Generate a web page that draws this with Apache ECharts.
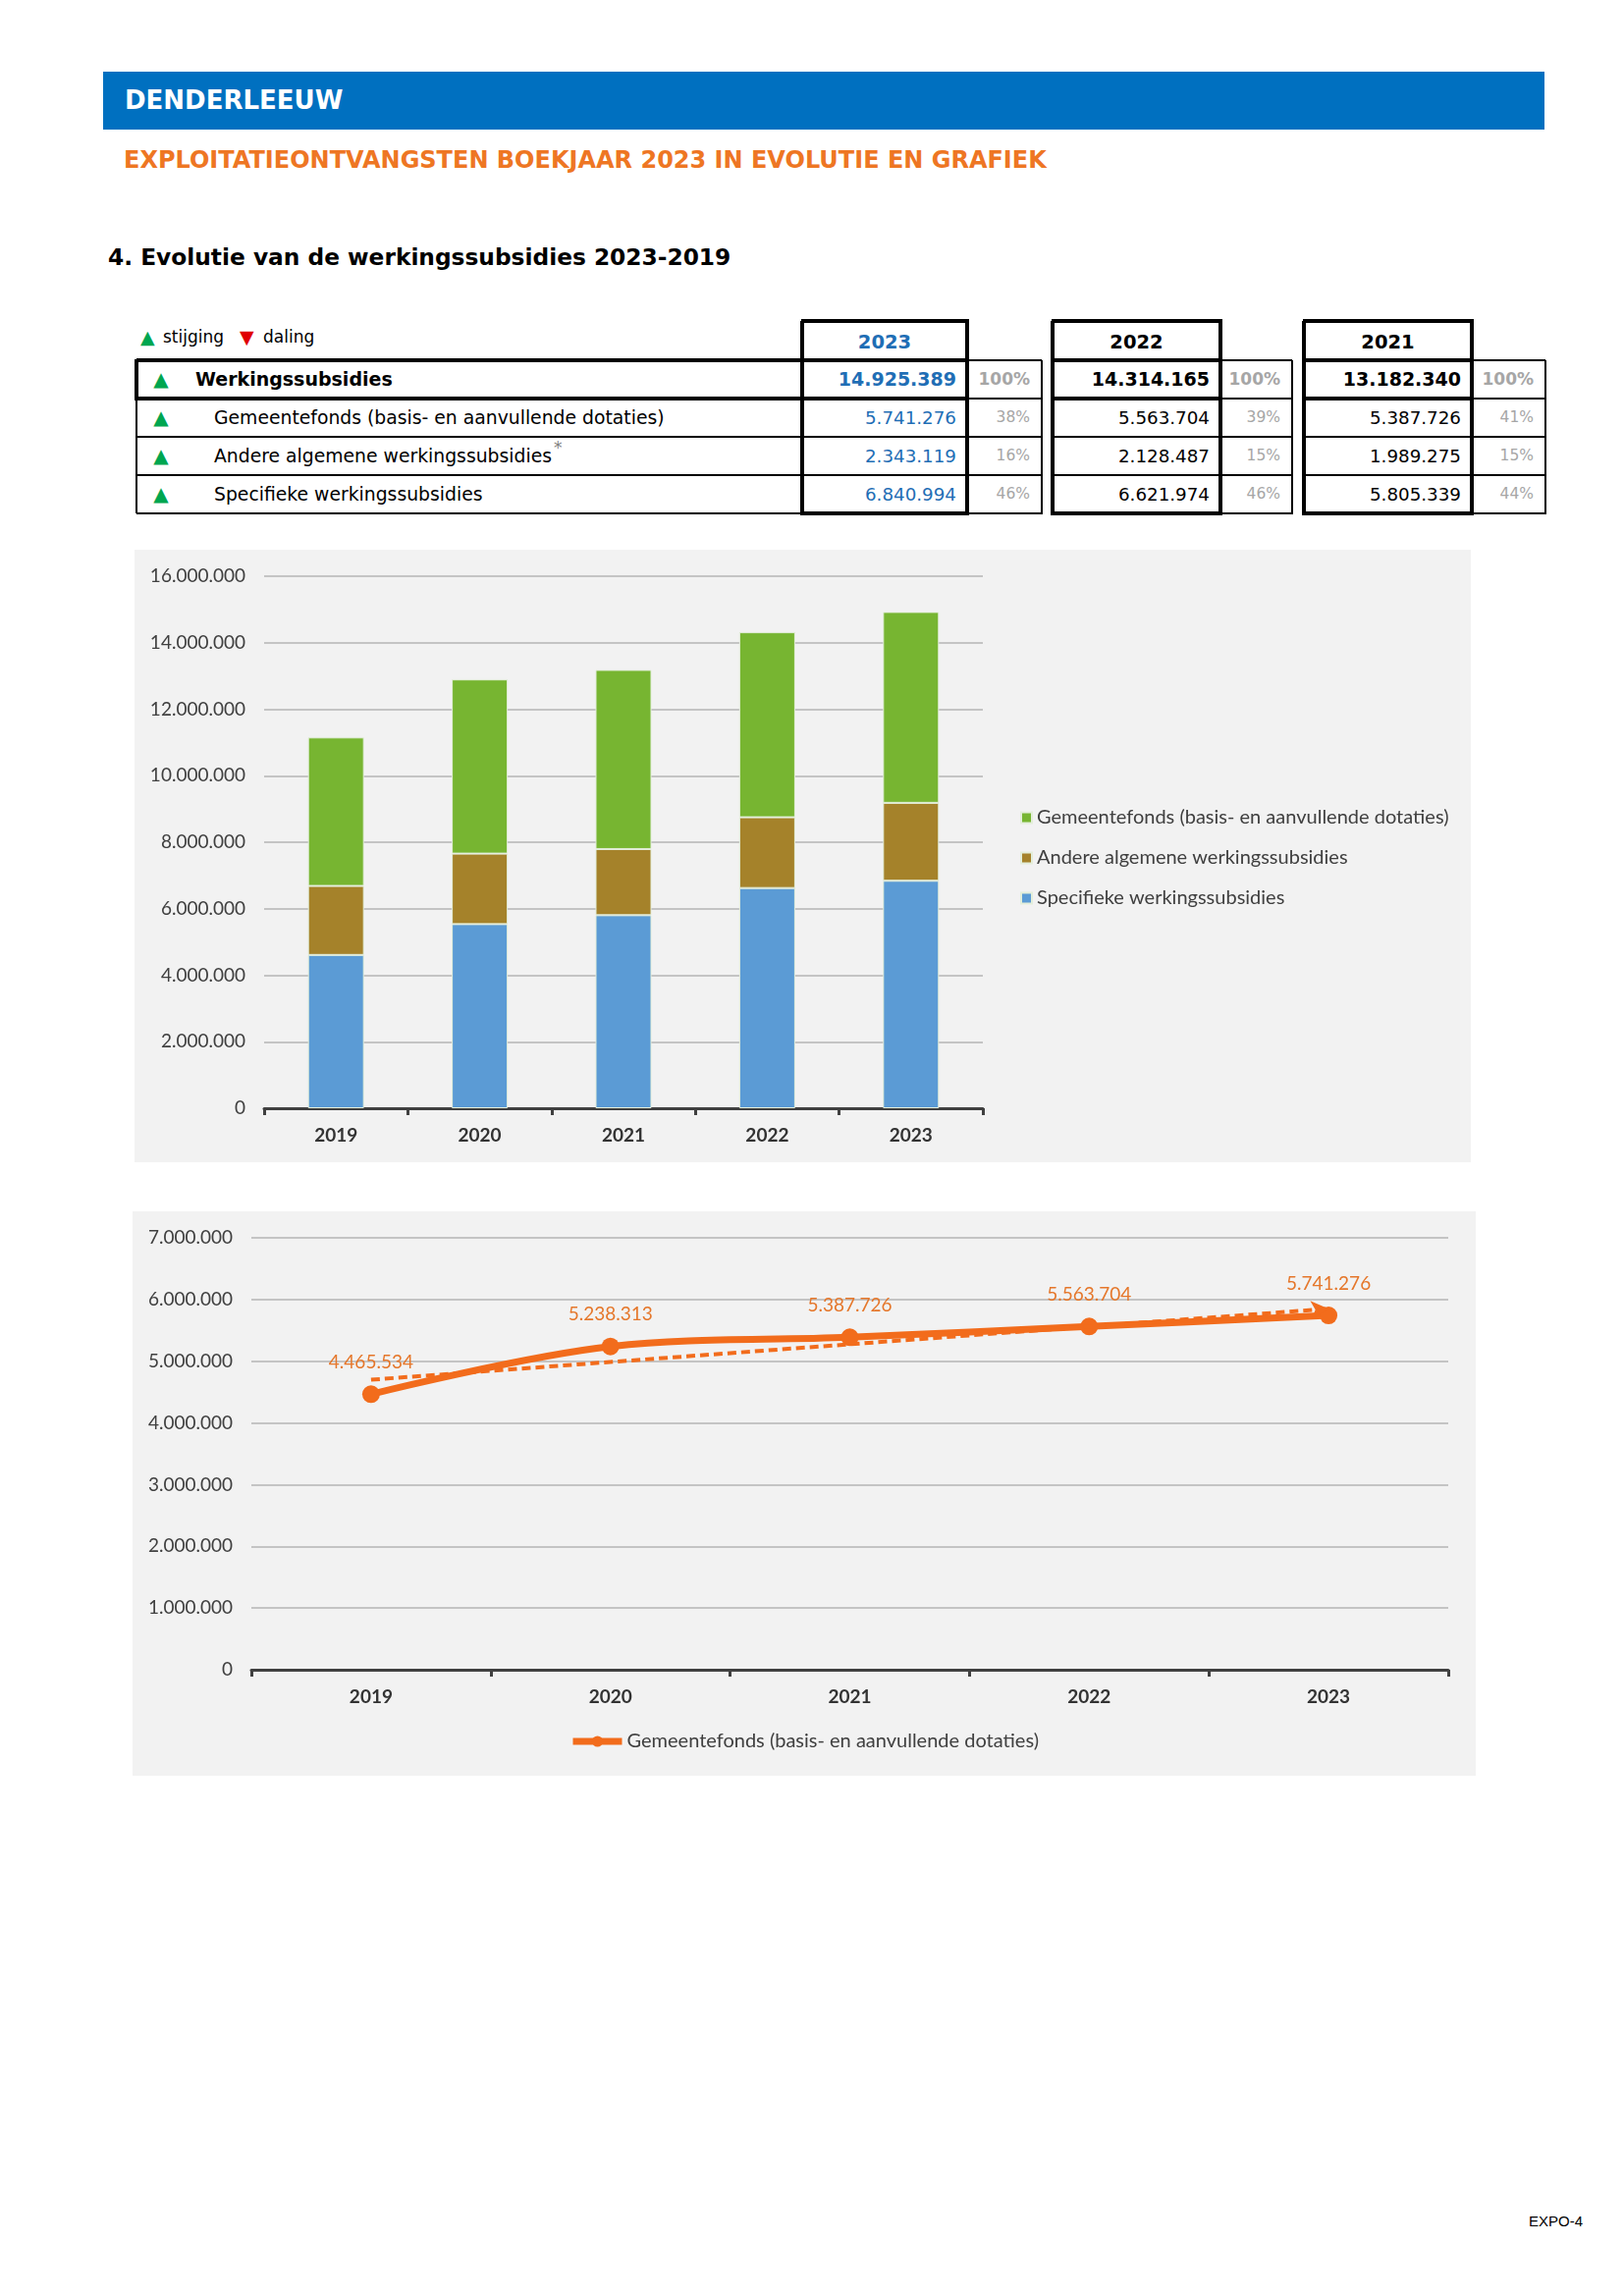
<!DOCTYPE html>
<html>
<head>
<meta charset="utf-8">
<script src="https://cdn.jsdelivr.net/npm/echarts/dist/echarts.min.js"></script>
<style>
  html, body { margin:0; padding:0; background:#fff; }
  body { width:1654px; height:2339px; position:relative; font-family:'DejaVu Sans', sans-serif; overflow:hidden; }
  .abs { position:absolute; white-space:nowrap; }
</style>
</head>
<body>
<div class="abs" style="left:105px;top:73px;width:1468px;height:59px;background:#0070C0;"></div>
<div class="abs" style="left:127px;top:73px;height:59px;line-height:59px;color:#fff;font-weight:bold;font-size:26px;">DENDERLEEUW</div>
<div class="abs" style="left:126px;top:147px;height:32px;line-height:32px;color:#EE7623;font-weight:bold;font-size:24px;">EXPLOITATIEONTVANGSTEN BOEKJAAR 2023 IN EVOLUTIE EN GRAFIEK</div>
<div class="abs" style="left:110px;top:246px;height:32px;line-height:32px;color:#000;font-weight:bold;font-size:23.3px;">4. Evolutie van de werkingssubsidies 2023-2019</div>

<div id="legendTop"></div>
<div id="table"></div>

<div id="bar" class="abs" style="left:137px;top:560px;width:1361px;height:624px;"></div>
<div id="line" class="abs" style="left:135px;top:1234px;width:1368px;height:575px;"></div>

<div class="abs" style="left:1557px;top:2253px;height:20px;line-height:20px;font-family:'Liberation Sans';font-size:15px;color:#000;">EXPO-4</div>

<script>
// ---------- table data ----------
const tableYears = ['2023', '2022', '2021'];
const tableLabels = ['Werkingssubsidies', 'Gemeentefonds (basis- en aanvullende dotaties)', 'Andere algemene werkingssubsidies', 'Specifieke werkingssubsidies'];
const tableValues2023 = ['14.925.389', '5.741.276', '2.343.119', '6.840.994'];
const tableValues2022 = ['14.314.165', '5.563.704', '2.128.487', '6.621.974'];
const tableValues2021 = ['13.182.340', '5.387.726', '1.989.275', '5.805.339'];
const tablePct2023 = ['100%', '38%', '16%', '46%'];
const tablePct2022 = ['100%', '39%', '15%', '46%'];
const tablePct2021 = ['100%', '41%', '15%', '44%'];
const tableTrend = ['up', 'up', 'up', 'up'];

// ---------- chart data ----------
const years = ['2019', '2020', '2021', '2022', '2023'];
const seriesNames = ['Gemeentefonds (basis- en aanvullende dotaties)', 'Andere algemene werkingssubsidies', 'Specifieke werkingssubsidies'];
const gemeentefonds = [4465534, 5238313, 5387726, 5563704, 5741276];
const andere = [2075000, 2119000, 1989275, 2128487, 2343119];
const specifiek = [4610000, 5538000, 5805339, 6621974, 6840994];
const trendStartEnd = [4700000, 5850000];
const barAxisMax = 16000000, barAxisStep = 2000000;
const lineAxisMax = 7000000, lineAxisStep = 1000000;

function fmt(v) { return String(Math.round(v)).replace(/\B(?=(\d{3})+(?!\d))/g, '.'); }

// ---------- build table (HTML) ----------
function el(parent, css, text) {
  const d = document.createElement('div');
  d.className = 'abs';
  d.style.cssText = css;
  if (text !== undefined) d.textContent = text;
  parent.appendChild(d);
  return d;
}
const T = document.getElementById('table');
const L = document.getElementById('legendTop');
el(L, 'left:143px;top:331px;height:24px;line-height:24px;font-size:19px;color:#00A650;', '\u25B2');
el(L, 'left:166px;top:332px;height:22px;line-height:22px;font-size:17px;color:#000;', 'stijging');
el(L, 'left:244px;top:331px;height:24px;line-height:24px;font-size:19px;color:#E00000;', '\u25BC');
el(L, 'left:268px;top:332px;height:22px;line-height:22px;font-size:17px;color:#000;', 'daling');

const rowTops = [367, 406, 445, 484, 523];
const boxes = [[817, 985, 1061], [1072, 1243, 1316], [1328, 1499, 1574]];
const vals = [tableValues2023, tableValues2022, tableValues2021];
const pcts = [tablePct2023, tablePct2022, tablePct2021];
function hline(x1, x2, y, t) { el(T, `left:${x1}px;top:${y - t/2}px;width:${x2 - x1}px;height:${t}px;background:#000;`); }
function vline(x, y1, y2, t) { el(T, `left:${x - t/2}px;top:${y1}px;width:${t}px;height:${y2 - y1}px;background:#000;`); }

// label area lines
hline(139, 817, rowTops[0], 3.5);
hline(139, 817, rowTops[1], 3.5);
hline(139, 817, rowTops[2], 1.5);
hline(139, 817, rowTops[3], 1.5);
hline(139, 817, rowTops[4], 2);
vline(139, rowTops[0] - 1.5, rowTops[1] + 1.5, 3.5);
vline(139, rowTops[1], rowTops[4], 1.5);

boxes.forEach((b, i) => {
  const [a, m, c] = b;
  hline(a - 1.5, m + 1.5, 327, 3.5);
  hline(a - 1.5, m + 1.5, 367, 3.5);
  vline(a, 327, 367, 3.5);
  vline(m, 327, 367, 3.5);
  vline(a, 367, 524.5, 3.5);
  vline(m, 367, 524.5, 3.5);
  hline(a, m, rowTops[1], 3.5);
  hline(a, m, rowTops[2], 1.5);
  hline(a, m, rowTops[3], 1.5);
  hline(a - 1.5, m + 1.5, rowTops[4], 3.5);
  hline(m, c, rowTops[0], 1.5);
  hline(m, c, rowTops[1], 2.5);
  hline(m, c, rowTops[2], 1.5);
  hline(m, c, rowTops[3], 1.5);
  hline(m, c + 0.75, rowTops[4], 2);
  vline(c, rowTops[0], rowTops[4], 1.5);
  el(T, `left:${a}px;top:329px;width:${m - a}px;height:38px;line-height:40px;text-align:center;font-weight:bold;font-size:19.5px;color:${i === 0 ? '#1F6EB5' : '#000'};`, tableYears[i]);
  for (let r = 0; r < 4; r++) {
    const top = rowTops[r], h = rowTops[r + 1] - rowTops[r];
    const bold = r === 0;
    el(T, `left:${a}px;top:${top}px;width:${m - a - 11}px;height:${h}px;line-height:${h}px;text-align:right;font-size:${bold ? 19 : 18.3}px;font-weight:${bold ? 'bold' : 'normal'};color:${i === 0 ? '#1F6EB5' : '#000'};`, vals[i][r]);
    el(T, `left:${m}px;top:${top}px;width:${c - m - 12}px;height:${h}px;line-height:${h}px;text-align:right;font-size:${bold ? 17 : 15.5}px;font-weight:${bold ? 'bold' : 'normal'};color:#A6A6A6;`, pcts[i][r]);
  }
});
for (let r = 0; r < 4; r++) {
  const top = rowTops[r], h = rowTops[r + 1] - rowTops[r];
  el(T, `left:153px;top:${top}px;width:22px;height:${h}px;line-height:${h}px;font-size:20px;color:#00A650;text-align:center;`, tableTrend[r] === 'up' ? '\u25B2' : '\u25BC');
  const lab = el(T, `left:${r === 0 ? 199 : 218}px;top:${top}px;height:${h}px;line-height:${h}px;font-size:${r === 0 ? 19 : 18.8}px;font-weight:${r === 0 ? 'bold' : 'normal'};color:#000;`, tableLabels[r]);
  if (r === 2) {
    const s = document.createElement('span');
    s.textContent = '*';
    s.style.cssText = 'color:#808080;font-size:17px;position:relative;top:-9px;line-height:0;margin-left:2px;';
    lab.appendChild(s);
  }
}

// ---------- bar chart ----------
const orange = '#F26C1C';
const bar = echarts.init(document.getElementById('bar'));
bar.setOption({
  animation: false,
  backgroundColor: '#F2F2F2',
  textStyle: { fontFamily: 'Lato' },
  grid: { left: 132, right: 497, top: 27, bottom: 55 },
  legend: {
    orient: 'vertical', left: 897, top: 258, icon: 'rect', itemWidth: 11, itemHeight: 11, itemGap: 21,
    data: seriesNames,
    textStyle: { fontFamily: 'Lato', fontSize: 20, color: '#404040' }
  },
  xAxis: {
    type: 'category', data: years,
    axisLine: { lineStyle: { color: '#404040', width: 3 } },
    axisTick: { show: true, length: 7, lineStyle: { color: '#404040', width: 3 } },
    axisLabel: { fontFamily: 'Lato', fontWeight: 'bold', fontSize: 19, color: '#333', margin: 18 }
  },
  yAxis: {
    type: 'value', min: 0, max: barAxisMax, interval: barAxisStep,
    axisLine: { show: false }, axisTick: { show: false },
    splitLine: { lineStyle: { color: '#C4C4C4', width: 2 } },
    axisLabel: { formatter: fmt, fontFamily: 'Lato', fontSize: 19, color: '#404040', margin: 19 }
  },
  series: [
    { name: seriesNames[2], type: 'bar', stack: 'tot', barWidth: 57, data: specifiek,
      itemStyle: { color: '#5B9BD5', borderColor: '#E3EEDA', borderWidth: 1 } },
    { name: seriesNames[1], type: 'bar', stack: 'tot', barWidth: 57, data: andere,
      itemStyle: { color: '#A5822A', borderColor: '#E3EEDA', borderWidth: 1 } },
    { name: seriesNames[0], type: 'bar', stack: 'tot', barWidth: 57, data: gemeentefonds,
      itemStyle: { color: '#77B531', borderColor: '#E3EEDA', borderWidth: 1 } }
  ]
});

// ---------- line chart ----------
const line = echarts.init(document.getElementById('line'));
line.setOption({
  animation: false,
  backgroundColor: '#F2F2F2',
  textStyle: { fontFamily: 'Lato' },
  grid: { left: 121, right: 28, top: 27, bottom: 108 },
  legend: {
    left: 'center', top: 525, itemWidth: 50, itemHeight: 14,
    lineStyle: { width: 7 },
    data: [seriesNames[0]],
    textStyle: { fontFamily: 'Lato', fontSize: 20, color: '#404040' }
  },
  xAxis: {
    type: 'category', data: years,
    axisLine: { lineStyle: { color: '#404040', width: 3 } },
    axisTick: { show: true, length: 7, lineStyle: { color: '#404040', width: 3 } },
    axisLabel: { fontFamily: 'Lato', fontWeight: 'bold', fontSize: 19, color: '#333', margin: 18 }
  },
  yAxis: {
    type: 'value', min: 0, max: lineAxisMax, interval: lineAxisStep,
    axisLine: { show: false }, axisTick: { show: false },
    splitLine: { lineStyle: { color: '#C4C4C4', width: 2 } },
    axisLabel: { formatter: fmt, fontFamily: 'Lato', fontSize: 19, color: '#404040', margin: 19 }
  },
  series: [{
    name: seriesNames[0], type: 'line', data: gemeentefonds, smooth: 0.35,
    symbol: 'circle', symbolSize: 18,
    lineStyle: { width: 7, color: orange }, itemStyle: { color: orange },
    label: { show: true, position: 'top', distance: 14, formatter: p => fmt(p.value),
             fontFamily: 'Lato', fontSize: 19, color: '#E5772B' },
    markLine: {
      silent: true, symbol: ['none', 'arrow'], symbolSize: [14, 18], z: 5,
      label: { show: false },
      lineStyle: { type: [9, 5], width: 4, color: orange },
      data: [[{ coord: [years[0], trendStartEnd[0]] }, { coord: [years[4], trendStartEnd[1]] }]]
    }
  }]
});
</script>
</body>
</html>
